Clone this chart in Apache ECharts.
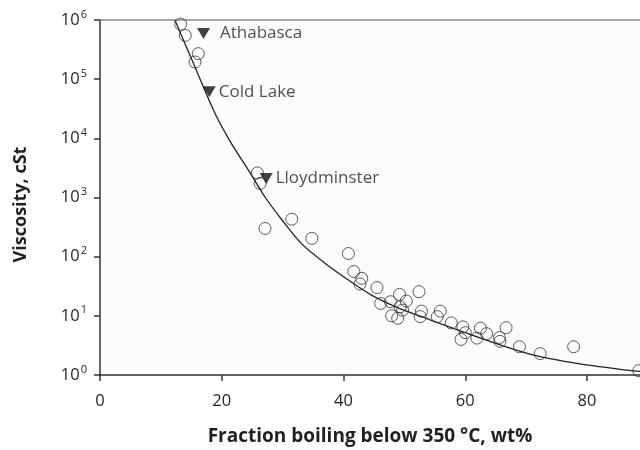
<!DOCTYPE html>
<html>
<head>
<meta charset="utf-8">
<script src="https://cdn.jsdelivr.net/npm/echarts@6/dist/echarts.min.js"></script>
<style>html,body{margin:0;padding:0;background:#fff}#c{width:640px;height:450px}</style>
</head>
<body>
<div id="c"></div>
<script>
// Circles: samples (fraction boiling below 350 °C wt%, viscosity cSt)
const sampleX = [13.25,14.0,16.15,15.6,25.85,26.3,27.1,31.5,34.8,40.8,41.7,43.0,42.7,45.5,46.1,47.7,49.2,50.3,52.4,49.3,49.7,47.9,48.9,52.8,52.6,55.9,55.4,57.7,59.6,60.0,59.3,61.9,62.5,63.5,65.6,65.7,66.7,68.9,72.3,77.8,88.5];
const sampleY = [850000,550000,270000,195000,2600,1730,300,430,204,113,56,43,34.5,30,16.2,17.3,23,17.8,25.6,14.2,12.5,10,9.1,12,9.7,12,9.7,7.6,6.5,5.2,4.0,4.2,6.2,5.0,4.3,3.7,6.3,3.0,2.3,3.0,1.18];
// Triangles: named crudes
const crudeNames = ['Athabasca','Cold Lake','Lloydminster'];
const crudeX = [17.0,17.95,27.3];
const crudeY = [590000,61000,2100];
// Fitted curve
const fitX = [12.3,15.2,18.9,21.6,24.4,27.1,29.9,33.1,37.0,40.8,44.6,48.5,52.8,65.7,72.3,80.0,87.6,88.7];
const fitY = [1000000,200000,26300,8130,2880,1020,417,166,76.7,40.3,22.4,14.3,9.66,3.24,2.04,1.48,1.17,1.15];
const xTicks = [0,20,40,60,80];

const chart = echarts.init(document.getElementById('c'));
const font = '"Open Sans", "Noto Sans", sans-serif';
const ink = '#231f20';
const zip = (a,b) => a.map((v,i)=>[v,b[i]]);
chart.setOption({
  animation:false,
  backgroundColor:'#ffffff',
  grid:{left:100,right:0,top:20,bottom:75,show:true,backgroundColor:'#fdfcfa',borderWidth:0,
        containLabel:false,outerBoundsMode:'none'},
  xAxis:[{
    type:'value',min:0,max:88.7,position:'bottom',
    axisLine:{show:true,lineStyle:{color:'#333',width:1.5}},
    axisTick:{show:true,customValues:xTicks,length:6,lineStyle:{color:'#333',width:1.5}},
    axisLabel:{customValues:xTicks,color:ink,fontSize:16.5,fontFamily:font,margin:18},
    splitLine:{show:false},
    name:'Fraction boiling below 350 °C, wt%',nameLocation:'middle',nameGap:52,
    nameTextStyle:{color:ink,fontSize:19,fontWeight:'bold',fontFamily:font}
  },{
    type:'value',min:0,max:88.7,position:'top',
    axisLine:{show:true,lineStyle:{color:'#8a8a8a',width:1.5}},
    axisTick:{show:false},axisLabel:{show:false},splitLine:{show:false}
  }],
  yAxis:{
    type:'log',logBase:10,min:1,max:1000000,
    axisLine:{show:true,lineStyle:{color:'#333',width:1.5}},
    axisTick:{show:true,length:6,lineStyle:{color:'#333',width:1.5}},
    axisLabel:{color:ink,fontSize:16.5,fontFamily:font,margin:13,
      formatter:v=>'10{s|'+Math.round(Math.log10(v))+'}',
      rich:{s:{fontSize:11,verticalAlign:'top',padding:[0,0,11,1],color:ink,fontFamily:font}}},
    splitLine:{show:false},
    name:'Viscosity, cSt',nameLocation:'middle',nameGap:70,
    nameTextStyle:{color:ink,fontSize:18,fontWeight:'bold',fontFamily:font,padding:[0,14,0,0]}
  },
  series:[
    {type:'line',data:zip(fitX,fitY),smooth:0.3,showSymbol:false,
     lineStyle:{color:'#222',width:1.3},z:2},
    {type:'scatter',data:zip(sampleX,sampleY),symbol:'circle',symbolSize:12,
     itemStyle:{color:'rgba(0,0,0,0)',borderColor:'#333',borderWidth:1},z:3},
    {type:'scatter',symbol:'triangle',symbolRotate:180,symbolSize:[13,11],
     itemStyle:{color:'#111'},z:4,
     data:crudeNames.map((n,i)=>({name:n,value:[crudeX[i],crudeY[i]],
       label:{distance:i===0?10:3}})),
     label:{show:true,position:'right',formatter:'{b}',color:ink,fontSize:17,fontFamily:font}}
  ]
});
</script>
</body>
</html>
